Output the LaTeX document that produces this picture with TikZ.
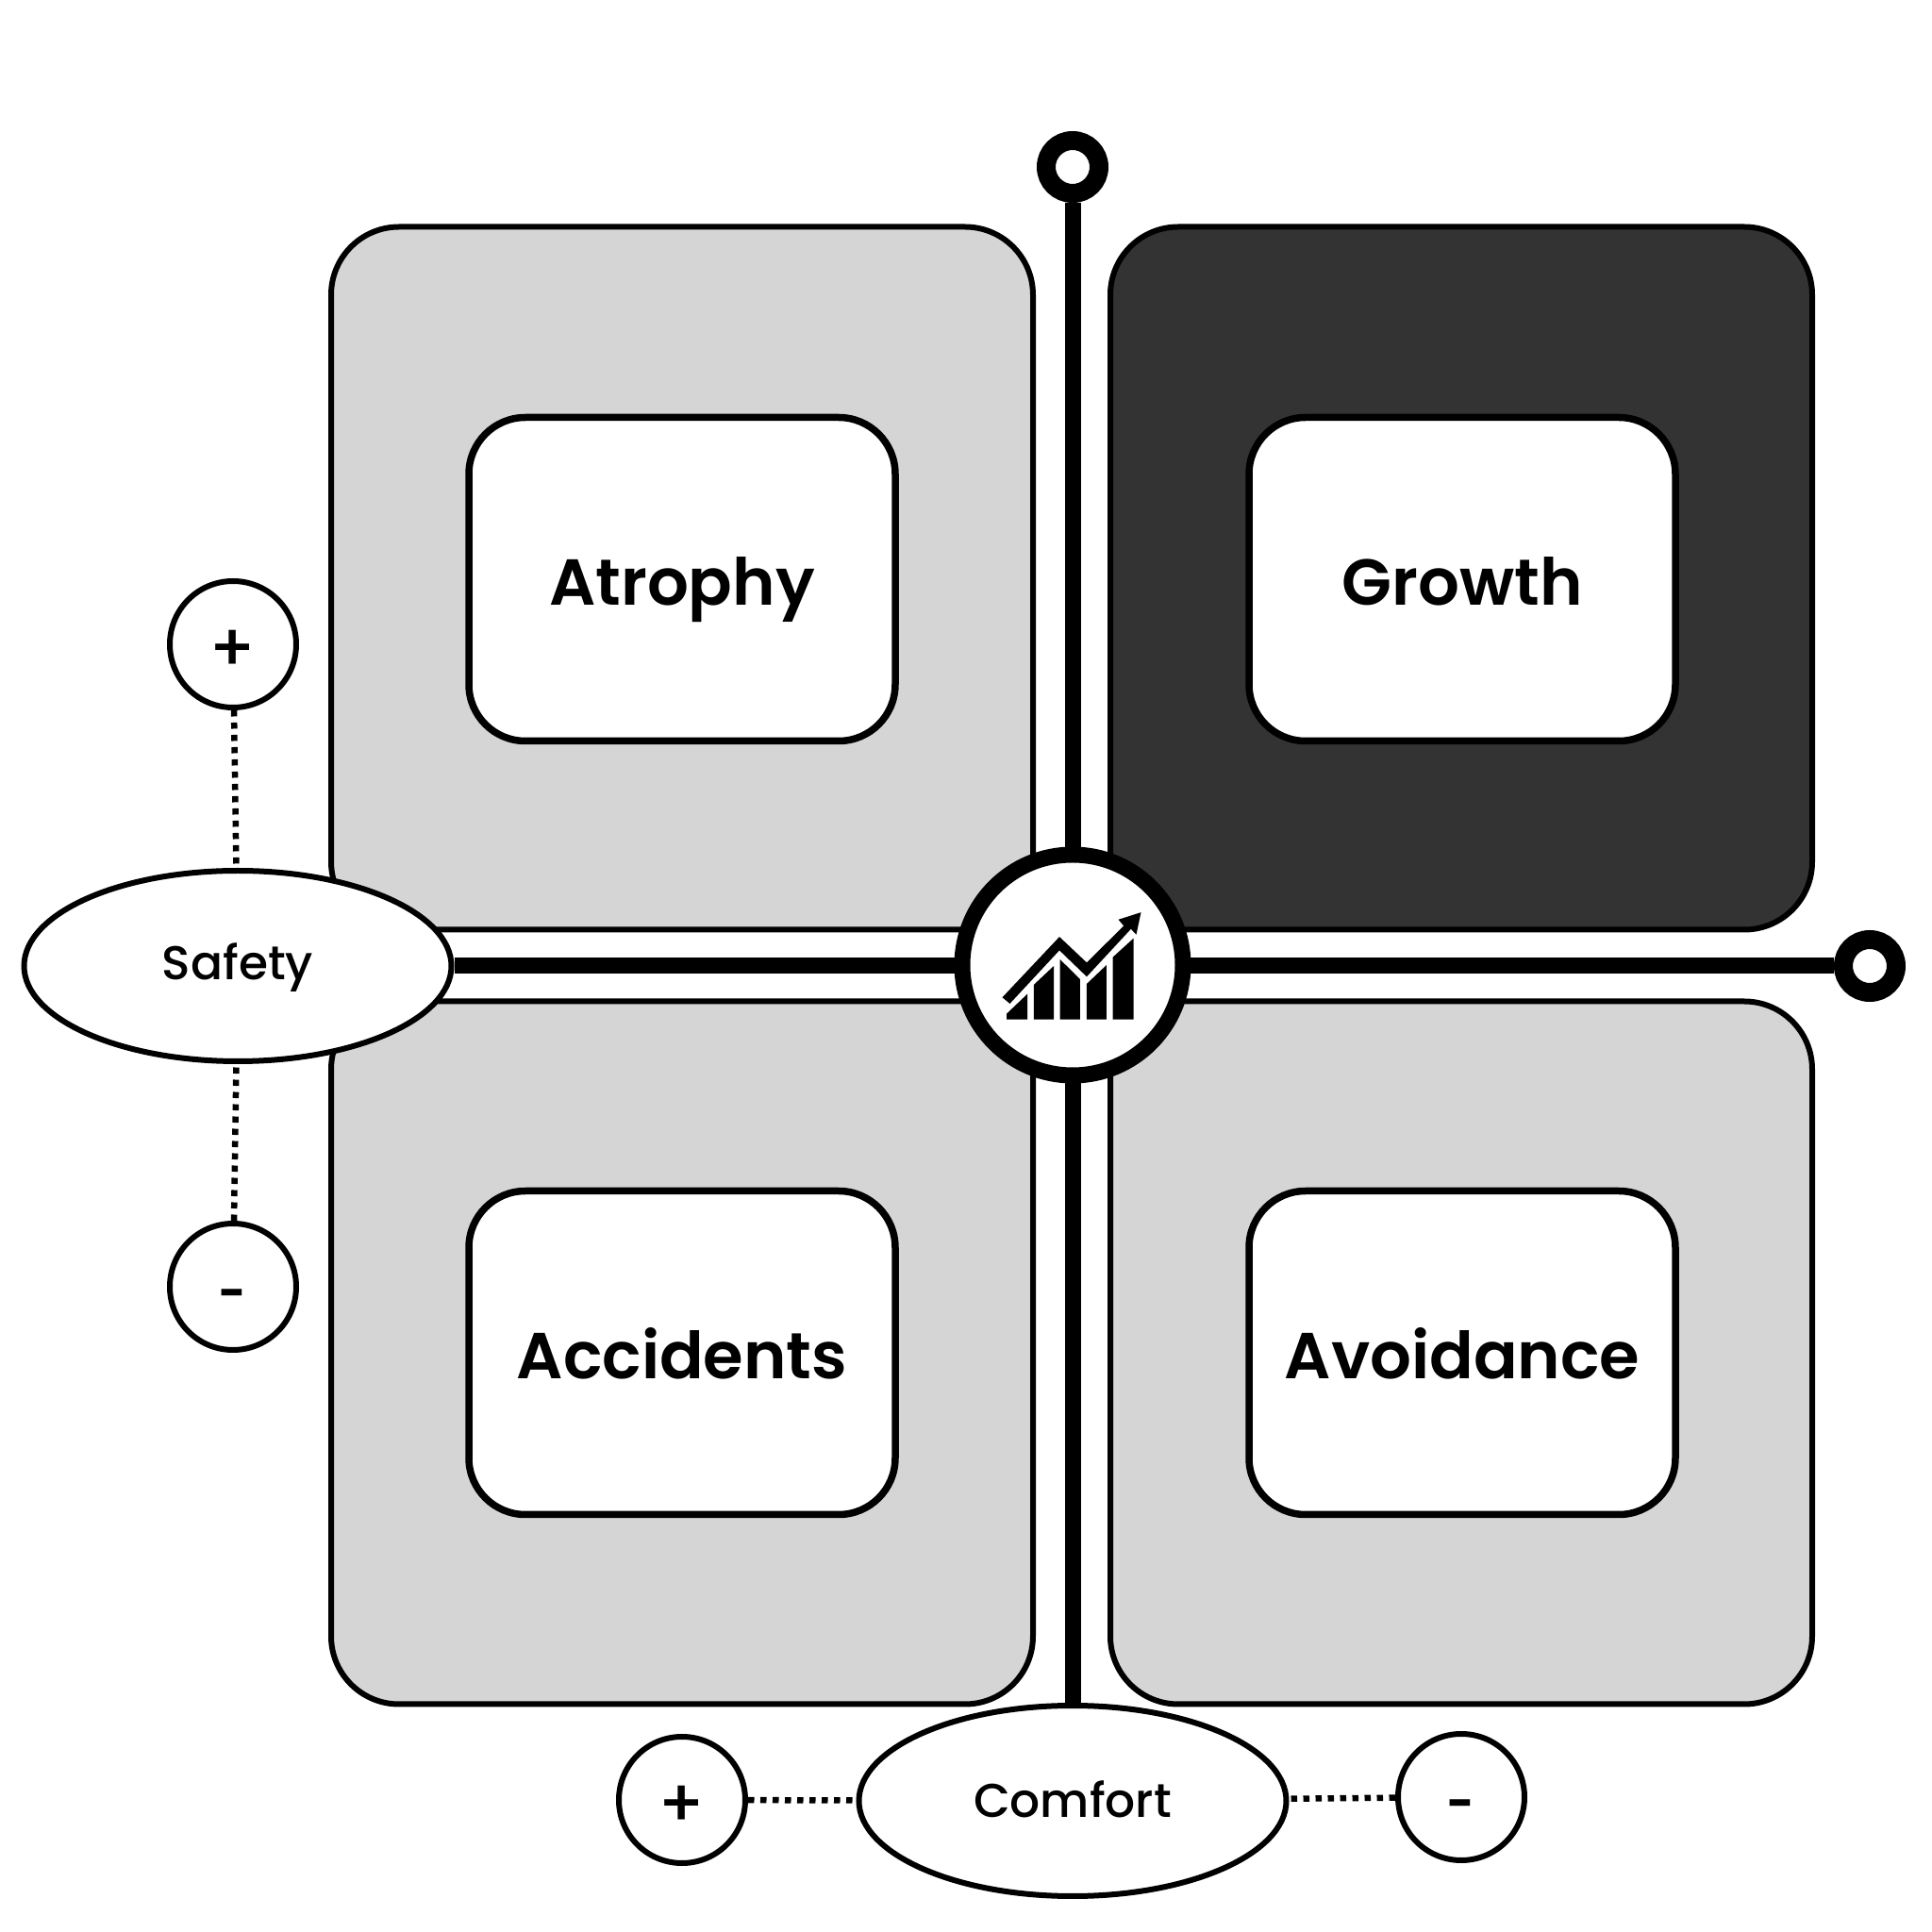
\documentclass[tikz,border=0pt]{standalone}
\usepackage{fontspec}
\setmainfont{Poppins}
\newfontfamily\tagfont{Poppins SemiBold}
\newfontfamily\factorfont{Poppins Medium}
\usetikzlibrary{shapes.geometric}
\definecolor{lightquad}{RGB}{213,213,213}
\definecolor{darkquad}{RGB}{51,51,51}

\begin{document}
\begin{tikzpicture}[
    quad/.style={draw,line width=0.06cm,rounded corners=0.72cm,minimum width=7.44cm,minimum height=7.45cm,inner sep=0pt},
    tag/.style={draw,fill=white,line width=0.075cm,rounded corners=0.6cm,minimum width=4.52cm,minimum height=3.43cm,inner sep=0pt,
        font=\fontsize{19.6}{19.6}\tagfont,text height=0.66cm,text depth=0.1cm},
    axis/.style={line width=0.17cm},
    ring/.style={circle,draw,fill=white,line width=0.2cm,minimum size=0.56cm,inner sep=0pt},
    factor/.style={ellipse,draw,fill=white,line width=0.06cm,minimum width=4.53cm,minimum height=2.02cm,inner sep=0pt,
        font=\fontsize{14.3}{14.3}\factorfont,text height=0.46cm,text depth=0.1cm},
    sign/.style={circle,draw,fill=white,line width=0.06cm,minimum size=1.34cm,inner sep=0pt,
        font=\fontsize{20}{20}\factorfont},
    plussign/.style={sign,text height=0.58cm,text depth=0cm},
    minussign/.style={sign,font=\fontsize{14}{14}\bfseries,text height=0.48cm,text depth=0cm},
    dotline/.style={line width=0.065cm,dash pattern=on 0.065cm off 0.065cm}]
\useasboundingbox (0,0) rectangle (20.48,20.48);
% quadrants
\node[quad,fill=lightquad] (q1) at (7.23,14.35) {};
\node[quad,fill=darkquad] (q2) at (15.49,14.35) {};
\node[quad,fill=lightquad] (q3) at (7.23,6.14) {};
\node[quad,fill=lightquad] (q4) at (15.49,6.14) {};
\node[tag] (atrophy) at (7.23,14.34) {Atrophy};
\node[tag] (growth) at (15.5,14.34) {Growth};
\node[tag] (accidents) at (7.23,6.14) {Accidents};
\node[tag] (avoidance) at (15.5,6.14) {Avoidance};
% ends of the axes
\node[ring] (top) at (11.37,18.71) {};
\node[ring] (right) at (19.82,10.24) {};
\node[factor,text height=0.39cm] (safety) at (2.52,10.24) {Safety};
\node[factor] (comfort) at (11.37,1.39) {Comfort};
\node[plussign] (plusS) at (2.47,13.65) {+};
\node[minussign] (minusS) at (2.47,6.84) {-};
\node[plussign] (plusC) at (7.23,1.40) {+};
\node[minussign] (minusC) at (15.49,1.43) {-};
\draw[axis] (top) -- (comfort);
\draw[axis] (safety) -- (right);
\draw[dotline] (plusS) -- (safety);
\draw[dotline] (minusS) -- (safety);
\draw[dotline] (plusC) -- (comfort);
\draw[dotline] (minusC) -- (comfort);
% hub with the chart icon
\node[circle,draw,fill=white,line width=0.17cm,minimum size=2.34cm,inner sep=0pt] (hub) at (11.37,10.25) {};
\begin{scope}[shift={(9.8,11.68)},x=0.003333cm,y=-0.003333cm]
\fill (248,533) -- (430,340) -- (517,422) -- (635,305) -- (618,285) -- (690,262) -- (675,333) -- (658,315)
    -- (517,467) -- (430,383) -- (272,553) -- cycle;
\fill (262,603) -- (262,585) -- (328,522) -- (328,603) -- cycle;
\fill (348,603) -- (348,493) -- (412,433) -- (412,603) -- cycle;
\fill (432,603) -- (432,412) -- (496,475) -- (496,603) -- cycle;
\fill (517,603) -- (517,490) -- (580,430) -- (580,603) -- cycle;
\fill (600,603) -- (600,405) -- (666,345) -- (666,603) -- cycle;
\end{scope}
\end{tikzpicture}
\end{document}
